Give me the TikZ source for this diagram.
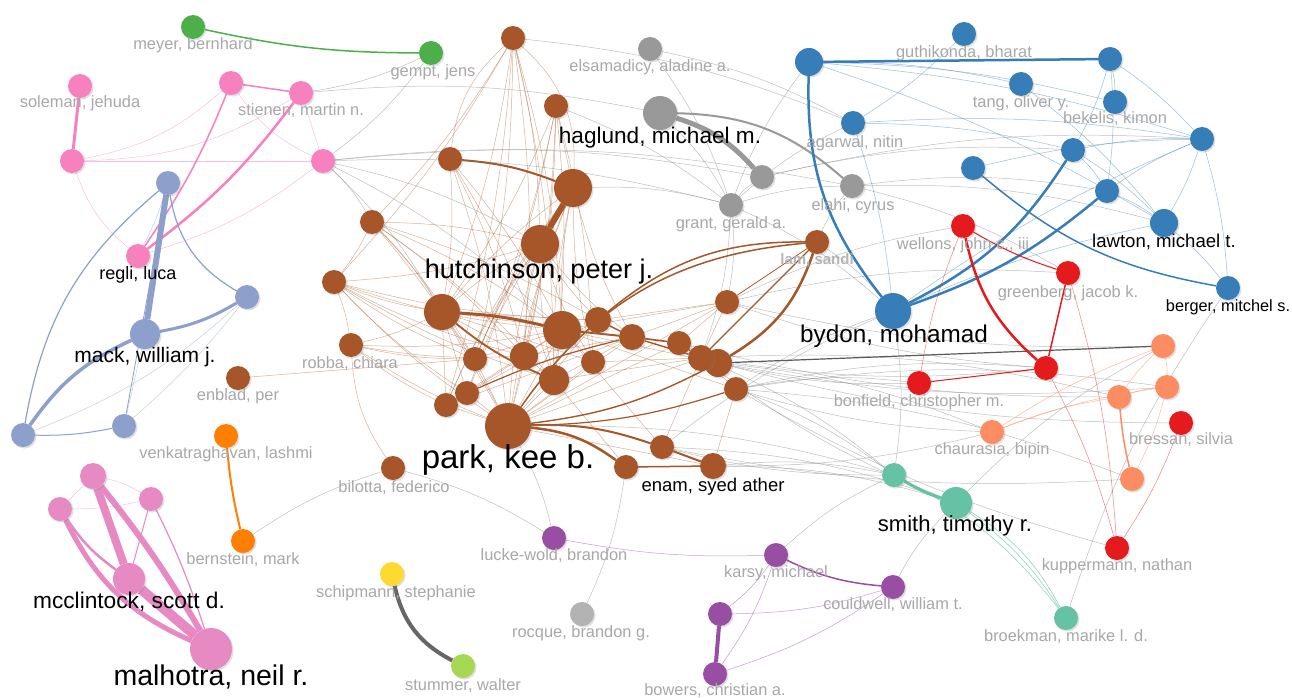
\documentclass[tikz,border=0pt]{standalone}
\usepackage{fontspec}
\setmainfont{Liberation Sans}
\usetikzlibrary{shadows}
\pgfdeclarelayer{bg}
\pgfdeclarelayer{edges}
\pgfsetlayers{bg,edges,main}
\definecolor{cGreen}{HTML}{4DAF4A}
\definecolor{cPink}{HTML}{F781BF}
\definecolor{cLav}{HTML}{8DA0CB}
\definecolor{cPinkB}{HTML}{E78AC3}
\definecolor{cOrange}{HTML}{FF7F00}
\definecolor{cYellow}{HTML}{FFD92F}
\definecolor{cLime}{HTML}{A6D854}
\definecolor{cGray}{HTML}{999999}
\definecolor{cLGray}{HTML}{B3B3B3}
\definecolor{cBlue}{HTML}{377EB8}
\definecolor{cRed}{HTML}{E41A1C}
\definecolor{cSalmon}{HTML}{FC8D62}
\definecolor{cTeal}{HTML}{66C2A5}
\definecolor{cPurple}{HTML}{984EA3}
\definecolor{cBrown}{HTML}{A65628}
\definecolor{cLab}{HTML}{A8A8A8}
\definecolor{cDark}{HTML}{5A5A5A}
\tikzset{
  dot/.style={circle,inner sep=0pt,outer sep=0pt,draw=none,
    drop shadow={shadow xshift=1.5pt,shadow yshift=-1.5pt,opacity=0.25}},
  glab/.style={anchor=base,text=cLab,font=\fontsize{16.4}{17}\selectfont,inner sep=0pt},
  blab/.style={anchor=base,text=black,inner sep=0pt},
  brt/.style={draw=cBrown,draw opacity=0.45,line width=0.5pt},
  gyt/.style={draw=black!50,draw opacity=0.5,line width=0.5pt},
  blt/.style={draw=cBlue,draw opacity=0.5,line width=0.5pt},
  rdt/.style={draw=cRed,draw opacity=0.55,line width=0.5pt},
  sat/.style={draw=cSalmon,draw opacity=0.6,line width=0.5pt},
  pkt/.style={draw=cPink,draw opacity=0.5,line width=0.5pt},
  lvt/.style={draw=cLav,draw opacity=0.5,line width=0.5pt},
  put/.style={draw=cPurple,draw opacity=0.55,line width=0.5pt},
  tet/.style={draw=cTeal,draw opacity=0.7,line width=0.6pt},
}
\newcommand\nd[4]{\node[dot,fill=#4,minimum size=#3pt] (#1) at (#2) {};}
\newcommand\gl[3]{\node[glab] (#1) at (#2) {#3};}
\newcommand\bl[4]{\node[blab,font=\fontsize{#3}{#3}\selectfont] (#1) at (#2) {#4};}
\begin{document}
\begin{tikzpicture}[x=1pt,y=-1pt]
\begin{pgfonlayer}{bg}
\fill[white] (0,0) rectangle (1292,698);
\end{pgfonlayer}
\path[use as bounding box] (0,0) rectangle (1292,698);
% ---------- nodes
\nd{meyer}{193,27}{24}{cGreen}
\nd{gempt}{431,53}{24}{cGreen}
\nd{soleman}{80,86}{24}{cPink}
\nd{pk2}{72,161}{24}{cPink}
\nd{pk3}{231,83}{24}{cPink}
\nd{stienen}{301,93}{24}{cPink}
\nd{pk5}{323,161}{24}{cPink}
\nd{regli}{138,256}{24}{cPink}
\nd{lv1}{168,183}{24}{cLav}
\nd{mack}{145,334}{30}{cLav}
\nd{lv3}{247,297}{24}{cLav}
\nd{lv4}{23,435}{24}{cLav}
\nd{lv5}{124,426}{24}{cLav}
\nd{q1}{93,476}{26}{cPinkB}
\nd{q2}{60,509}{24}{cPinkB}
\nd{q3}{151,499}{24}{cPinkB}
\nd{mcclintock}{129,579}{32}{cPinkB}
\nd{malhotra}{211,649}{42}{cPinkB}
\nd{venkat}{226,436}{24}{cOrange}
\nd{bernstein}{243,541}{24}{cOrange}
\nd{schipmann}{392,574}{24}{cYellow}
\nd{stummer}{463,666}{24}{cLime}
\nd{elsamadicy}{650,49}{24}{cGray}
\nd{haglund}{660,113}{34}{cGray}
\nd{gy3}{762,177}{24}{cGray}
\nd{grant}{731,205}{24}{cGray}
\nd{elahi}{852,186}{24}{cGray}
\nd{rocque}{582,614}{24}{cLGray}
\nd{bl1}{809,62}{28}{cBlue}
\nd{guthikonda}{964,34}{24}{cBlue}
\nd{bl3}{1110,59}{24}{cBlue}
\nd{tang}{1021,84}{24}{cBlue}
\nd{bekelis}{1115,102}{24}{cBlue}
\nd{agarwal}{853,123}{24}{cBlue}
\nd{bl11}{1202,139}{24}{cBlue}
\nd{bl5}{1073,150}{24}{cBlue}
\nd{bl6}{973,168}{24}{cBlue}
\nd{bl7}{1107,191}{24}{cBlue}
\nd{lawton}{1164,223}{28}{cBlue}
\nd{berger}{1228,288}{24}{cBlue}
\nd{bydon}{893,311}{36}{cBlue}
\nd{wellons}{963,226}{24}{cRed}
\nd{greenberg}{1068,273}{24}{cRed}
\nd{rd3}{1046,368}{24}{cRed}
\nd{bonfield}{919,383}{24}{cRed}
\nd{bressan}{1181,423}{24}{cRed}
\nd{kuppermann}{1117,548}{24}{cRed}
\nd{sa1}{1163,346}{24}{cSalmon}
\nd{sa2}{1167,387}{24}{cSalmon}
\nd{sa3}{1119,397}{24}{cSalmon}
\nd{chaurasia}{992,432}{24}{cSalmon}
\nd{sa5}{1132,479}{24}{cSalmon}
\nd{te1}{894,475}{24}{cTeal}
\nd{smith}{956,503}{32}{cTeal}
\nd{broekman}{1066,618}{24}{cTeal}
\nd{lucke}{554,538}{24}{cPurple}
\nd{karsy}{776,555}{24}{cPurple}
\nd{couldwell}{893,587}{24}{cPurple}
\nd{pu4}{720,614}{24}{cPurple}
\nd{bowers}{715,674}{24}{cPurple}
\nd{b1}{513,38}{24}{cBrown}
\nd{b2}{556,106}{24}{cBrown}
\nd{b3}{450,159}{24}{cBrown}
\nd{b4}{573,188}{38}{cBrown}
\nd{hut}{540,244}{38}{cBrown}
\nd{b5}{372,222}{24}{cBrown}
\nd{b6}{334,282}{24}{cBrown}
\nd{robba}{351,345}{24}{cBrown}
\nd{enblad}{238,378}{24}{cBrown}
\nd{bilotta}{393,468}{24}{cBrown}
\nd{b7}{442,312}{36}{cBrown}
\nd{b8}{562,330}{38}{cBrown}
\nd{b9}{598,320}{26}{cBrown}
\nd{b10}{632,337}{26}{cBrown}
\nd{b11}{679,343}{24}{cBrown}
\nd{b12}{727,302}{24}{cBrown}
\nd{b14}{718,363}{28}{cBrown}
\nd{b13}{701,358}{26}{cBrown}
\nd{b15}{475,359}{24}{cBrown}
\nd{b16}{524,356}{28}{cBrown}
\nd{b17}{593,362}{24}{cBrown}
\nd{b18}{554,380}{30}{cBrown}
\nd{b19}{467,393}{24}{cBrown}
\nd{b20}{446,405}{24}{cBrown}
\nd{park}{508,426}{46}{cBrown}
\nd{b21}{662,447}{24}{cBrown}
\nd{b22}{626,467}{24}{cBrown}
\nd{enam}{713,466}{26}{cBrown}
\nd{lam}{817,242}{24}{cBrown}
\nd{b23}{736,389}{24}{cBrown}
% ---------- labels
\gl{meyerL}{193,50}{meyer, bernhard}
\gl{gemptL}{433,77}{gempt, jens}
\gl{solemanL}{80,108}{soleman, jehuda}
\gl{stienenL}{301,116}{stienen, martin n.}
\gl{elsaL}{650,72}{elsamadicy, aladine a.}
\gl{guthL}{964,58}{guthikonda, bharat}
\gl{tangL}{1021,107}{tang, oliver y.}
\gl{bekelisL}{1115,124}{bekelis, kimon}
\gl{agarwalL}{855,147}{agarwal, nitin}
\gl{elahiL}{853,210}{elahi, cyrus}
\gl{grantL}{731,228}{grant, gerald a.}
\gl{wellonsL}{963,249}{wellons, john c., iii}
\gl{greenbergL}{1068,297}{greenberg, jacob k.}
\node[glab,font=\bfseries\fontsize{15}{15}\selectfont,text=cLab!85] (lamL) at (817,264) {lam, sandi};
\gl{robbaL}{350,368}{robba, chiara}
\gl{enbladL}{238,400}{enblad, per}
\gl{bonfieldL}{919,406}{bonfield, christopher m.}
\gl{bressanL}{1181,444}{bressan, silvia}
\gl{chaurasiaL}{992,454}{chaurasia, bipin}
\gl{venkatL}{226,458}{venkatraghavan, lashmi}
\gl{bilottaL}{394,492}{bilotta, federico}
\gl{luckeL}{554,560}{lucke-wold, brandon}
\gl{bernsteinL}{243,564}{bernstein, mark}
\gl{kuppL}{1117,570}{kuppermann, nathan}
\gl{karsyL}{776,577}{karsy, michael}
\gl{schipL}{396,597}{schipmann, stephanie}
\gl{couldL}{893,609}{couldwell, william t.}
\gl{rocqueL}{581,637}{rocque, brandon g.}
\gl{broekL}{1066,641}{broekman, marike l. d.}
\gl{stummerL}{463,690}{stummer, walter}
\gl{bowersL}{715,695}{bowers, christian a.}
\bl{hutL}{539,278}{27}{hutchinson, peter j.}
\bl{parkL}{508,468}{33}{park, kee b.}
\bl{malL}{211,685}{28.5}{malhotra, neil r.}
\bl{mccL}{129,608}{22.7}{mcclintock, scott d.}
\bl{hagL}{660,143}{22.6}{haglund, michael m.}
\bl{bydonL}{894,342}{24.3}{bydon, mohamad}
\bl{smithL}{955,531}{22}{smith, timothy r.}
\bl{lawtonL}{1164,247}{18.6}{lawton, michael t.}
\bl{bergerL}{1228,311}{16.3}{berger, mitchel s.}
\bl{enamL}{713,491}{18.5}{enam, syed ather}
\bl{regliL}{138,279}{18}{regli, luca}
\bl{mackL}{145,362}{21}{mack, william j.}
% ---------- edges
\begin{pgfonlayer}{edges}
% brown mesh
\foreach \a/\b in {b1/b7,b1/b16,b1/b18,b1/hut,b1/b15,b1/b20,b1/b6,b1/b5,b1/b8,
  b2/b7,b2/b15,b2/b19,b2/b16,b2/b18,b2/park,b2/b17,
  b3/b7,b3/b16,b3/b18,b3/park,b3/b8,
  b5/b7,b5/b8,b5/b16,b5/b18,b5/b9,b5/b15,b5/park,b5/hut}
  \draw[brt] (\a) to[bend left=6] (\b);
\foreach \a/\b in {b6/b7,b6/b8,b6/b16,b6/b15,b6/b19,b6/b18,b6/park,b6/b9,b6/hut,b6/b5,
  robba/b7,robba/b8,robba/park,robba/b15,robba/b16,robba/b6,robba/b20,
  hut/b7,hut/b16,hut/b18,hut/park,hut/b15,hut/b19,hut/b20,hut/b9,hut/b17,hut/b10,
  b4/b7,b4/b8,b4/b16,b4/b18,b4/park,b4/b10,b4/b17,b4/b15,b4/b20}
  \draw[brt] (\a) to[bend right=6] (\b);
\foreach \a/\b in {b7/b15,b7/b16,b7/b19,b7/b20,b7/park,b7/b9,b7/b10,b7/b17,
  b8/b15,b8/b16,b8/b17,b8/b18,b8/park,b8/b14,b8/b11,b8/b12,
  park/b15,park/b16,park/b17,park/b18,park/b19,park/b20,park/b9,park/b10,park/b11,park/b13,park/b12,park/enam,
  b16/b18,b16/b19,b16/b10,b18/b10,b18/b13,b19/b9,b20/b8,b20/b10,b17/b13,b9/b12,b10/b12,
  b11/b12,b12/b13,b23/b13,b23/b8,b21/b13,b21/b8,enam/b23,b22/b18,enblad/b15,b2/b4}
  \draw[brt] (\a) -- (\b);
\draw[brt] (robba) to[bend right=15] (bilotta);
\draw[brt] (b1) to[bend left=25] (b4);
\draw[brt] (b1) to[bend right=20] (b3);
% brown thick
\draw[cBrown,line width=6pt] (b4) -- (hut);
\draw[cBrown,line width=2pt] (b3) to[bend left=8] (b4);
\draw[cBrown,line width=3pt] (b7) to[bend left=5] (b8);
\draw[cBrown,line width=1.8pt] (b7) to[bend right=8] (b18);
\draw[cBrown,line width=1.8pt] (b8) -- (b10);
\draw[cBrown,line width=1.6pt] (b10) -- (b11);
\draw[cBrown,line width=1.6pt] (b11) -- (b13);
\draw[cBrown,line width=1.4pt] (b9) -- (b10);
\draw[cBrown,line width=1.4pt] (b10) -- (b13);
\draw[cBrown,line width=1.2pt] (b19) to[bend left=5] (b10);
\draw[cBrown,line width=2pt] (park) to[bend left=10] (b21);
\draw[cBrown,line width=2.5pt] (park) to[bend left=15] (b22);
\draw[cBrown,line width=1.5pt] (b22) -- (enam);
\draw[cBrown,line width=2pt] (b21) -- (enam);
\draw[cBrown,line width=1.5pt] (park) to[bend left=25] (lam);
\draw[cBrown,line width=1.4pt] (park) to[bend right=10] (b14);
\draw[cBrown,line width=1.2pt] (park) to[bend right=8] (b23);
\draw[cBrown,line width=2.5pt] (lam) to[bend left=20] (b14);
\draw[cBrown,line width=1.5pt] (lam) to[bend right=20] (b9);
\draw[cBrown,line width=1.2pt] (lam) -- (b13);
\draw[cBrown,line width=0.8pt] (lam) -- (b12);
% gray thin
\foreach \a/\b in {gempt/pk5,gempt/stienen,stienen/haglund,pk5/gy3,pk5/elahi,pk5/b5,pk5/b7,pk5/hut,pk5/b8,pk5/grant,
  b1/agarwal,elsamadicy/agarwal,elsamadicy/grant,haglund/grant,b4/grant,grant/gy3,grant/elahi,grant/agarwal,
  gy3/bl5,gy3/bl11,elahi/lawton,elahi/bl7,elahi/greenberg,b2/grant,grant/bydon,lam/elahi,lam/bydon,grant/bl1,
  b12/greenberg,b12/wellons,b23/bonfield,b23/rd3,b13/sa3,b23/sa2,park/te1,b23/te1,b13/te1,enam/te1,enam/smith,
  b21/smith,b23/sa5,b14/chaurasia,b22/rocque,park/lucke,bilotta/lucke,bernstein/bilotta,karsy/te1,couldwell/smith,
  smith/sa1,broekman/berger,bydon/te1,grant/b12,grant/b13}
  \draw[gyt] (\a) to[bend left=8] (\b);
\foreach \a/\b in {b14/bonfield,b13/rd3,b14/sa2,b23/chaurasia,b13/smith,b23/kuppermann,b11/sa3,b21/te1,
  enam/chaurasia,b12/sa1,bydon/b23,bydon/b21,b12/rd3,b14/bressan,b21/sa5}
  \draw[gyt] (\a) to[bend right=7] (\b);
\draw[cDark,line width=1.2pt] (b14) -- (sa1);
% green, orange, yellow
\draw[cGreen,line width=1.5pt] (meyer) to[bend right=6] (gempt);
\draw[cOrange,line width=2pt] (venkat) to[bend right=4] (bernstein);
\draw[black!60,line width=4pt] (schipmann) to[bend right=25] (stummer);
% gray cluster thick
\draw[cGray,line width=5pt] (haglund) to[bend left=15] (gy3);
\draw[cGray,line width=2pt] (haglund) to[bend left=20] (elahi);
% pink
\draw[cPink,line width=3pt] (soleman) -- (pk2);
\draw[cPink,line width=1.5pt] (pk3) -- (stienen);
\draw[cPink,line width=1.5pt] (pk3) to[bend left=6] (regli);
\draw[cPink,line width=2.5pt] (stienen) to[bend left=8] (regli);
\foreach \a/\b in {pk2/pk5,stienen/pk5}
  \draw[pkt] (\a) -- (\b);
\foreach \a/\b in {pk2/pk3,pk2/stienen,pk2/regli,pk3/pk5}
  \draw[pkt] (\a) to[bend right=15] (\b);
\draw[pkt] (pk5) to[bend left=10] (regli);
% lavender
\draw[cLav,line width=6pt] (lv1) -- (mack);
\draw[cLav,line width=1.2pt] (lv1) to[bend right=20] (lv4);
\draw[cLav,line width=1.2pt] (lv1) to[bend right=25] (lv3);
\draw[cLav,line width=0.8pt] (lv1) -- (lv5);
\draw[cLav,line width=3pt] (mack) to[bend right=10] (lv3);
\draw[cLav,line width=3.5pt] (mack) to[bend right=15] (lv4);
\draw[cLav,line width=1pt] (lv4) to[bend right=6] (lv5);
\draw[lvt] (mack) -- (lv5);
\draw[lvt] (lv3) to[bend left=10] (lv4);
\draw[lvt] (lv3) to[bend left=5] (lv5);
\draw[lvt] (lv1) to[bend left=5] (regli);
% pink B
\draw[cPinkB,line width=8pt] (q1) -- (mcclintock);
\draw[cPinkB,line width=6pt] (q1) to[bend left=4] (malhotra);
\draw[cPinkB,line width=10pt] (mcclintock) -- (malhotra);
\draw[cPinkB,line width=5pt] (q2) to[bend right=20] (malhotra);
\draw[cPinkB,line width=2.5pt] (q2) to[bend right=10] (mcclintock);
\draw[cPinkB,line width=1pt] (q3) -- (mcclintock);
\draw[cPinkB,line width=1.2pt] (q3) to[bend left=4] (malhotra);
\draw[pkt,draw=cPinkB] (q1) -- (q2);
\draw[pkt,draw=cPinkB] (q1) to[bend left=10] (q3);
\draw[pkt,draw=cPinkB] (q2) to[bend right=6] (q3);
% blue
\draw[cBlue,line width=2.5pt] (bl1) -- (bl3);
\draw[cBlue,line width=2.5pt] (bl1) to[bend right=20] (bydon);
\draw[cBlue,line width=2.5pt] (bydon) to[bend right=15] (bl5);
\draw[cBlue,line width=2.5pt] (bydon) to[bend right=10] (bl7);
\draw[cBlue,line width=1.5pt] (bl6) to[bend right=15] (berger);
\foreach \a/\b in {bl1/tang,bl1/bekelis,bl1/bl11,bl1/lawton,guthikonda/agarwal,bl3/bl5,bl3/bekelis,bl3/bl11,bl3/bl7,
  tang/lawton,agarwal/bl11,agarwal/bl5,bl6/bl11,bl5/bl7,bl5/lawton,bl7/bl11,bl7/lawton,bl11/lawton,bl11/berger,
  lawton/berger,bydon/bl11,bydon/lawton,agarwal/bydon,bl5/bl11}
  \draw[blt] (\a) to[bend left=6] (\b);
% red
\draw[cRed,line width=2.5pt] (wellons) to[bend right=18] (rd3);
\draw[cRed,line width=1.5pt] (greenberg) -- (rd3);
\draw[cRed,line width=1pt] (wellons) to[bend right=6] (greenberg);
\draw[cRed,line width=1pt] (bonfield) -- (rd3);
\foreach \a/\b in {bonfield/wellons,rd3/kuppermann,greenberg/kuppermann,bressan/kuppermann}
  \draw[rdt] (\a) to[bend left=6] (\b);
% salmon
\draw[cSalmon,line width=1.5pt] (sa3) to[bend right=4] (sa5);
\foreach \a/\b in {chaurasia/sa1,chaurasia/sa2,chaurasia/sa3,sa3/sa1,sa3/sa2,sa1/sa2,sa2/sa5}
  \draw[sat] (\a) to[bend left=6] (\b);
% teal
\draw[cTeal,line width=3pt] (te1) to[bend right=6] (smith);
\draw[tet] (smith) to[bend left=15] (broekman);
\draw[tet] (smith) to[bend left=10] (broekman);
\draw[tet] (te1) to[bend left=12] (broekman);
% purple
\draw[cPurple,line width=4pt] (pu4) -- (bowers);
\draw[cPurple,line width=1.5pt] (karsy) to[bend right=10] (couldwell);
\draw[put] (lucke) to[bend right=6] (karsy);
\foreach \a/\b in {karsy/pu4,karsy/bowers,couldwell/pu4,couldwell/bowers}
  \draw[put] (\a) to[bend left=8] (\b);
\end{pgfonlayer}
\end{tikzpicture}
\end{document}
